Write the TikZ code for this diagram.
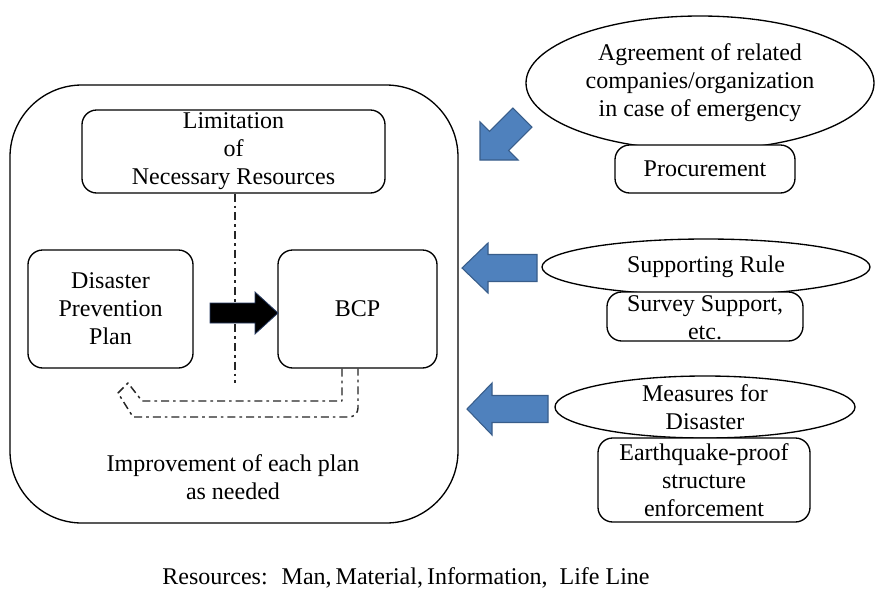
\documentclass[tikz,border=0pt]{standalone}
\usepackage{fontspec}
\setmainfont{Liberation Serif}
\begin{document}
\begin{tikzpicture}[x=0.75pt,y=-0.75pt,
  lw/.style={line width=1pt},
  box/.style={draw, lw, fill=white, rounded corners=11pt, align=center, inner sep=0pt},
  txt/.style={align=center, inner sep=0pt, font=\fontsize{18}{21}\selectfont},
  oval/.style={draw, lw, fill=white},
  ddot/.style={line width=1.1pt, black!85, dash pattern=on 6pt off 3pt on 2pt off 3pt},
  barrow/.style={fill={rgb,255:red,79;green,129;blue,189}, draw={rgb,255:red,56;green,93;blue,138}, line width=0.8pt, line join=miter}
]
\useasboundingbox (0,0) rectangle (875,590);
\fill[white] (0,0) rectangle (875,590);
\tikzset{every node/.append style={font=\fontsize{18}{21}\selectfont}}

% big container
\node[box, rounded corners=54pt, minimum width=336pt, minimum height=328.5pt] (big) at (234,304) {};

\node[box, minimum width=227.25pt, minimum height=62.25pt] (lim) at (233.5,151.5) {Limitation\\of\\Necessary Resources};
\node[box, minimum width=123.75pt, minimum height=88.5pt] (dpp) at (110.5,309) {Disaster\\Prevention\\Plan};
\node[box, minimum width=119.25pt, minimum height=88.5pt] (bcp) at (357.5,309) {BCP};

% vertical dash-dot line
\coordinate (vbot) at (235,383);
\draw[ddot] (lim.south -| vbot) -- (vbot);

% hollow U-turn arrow
\draw[ddot, line join=round] (bcp.south -| 342,0) -- (342,401) -- (142,401) -- (128,383) -- (118,393) -- (133,417)
  -- (349,417) to[out=0,in=-90] (358,408) -- (bcp.south -| 358,0);

% black arrow
\filldraw[fill=black, draw={rgb,255:red,40;green,60;blue,100}, line width=0.6pt]
  (210,303) -- (255,303) -- (255,292) -- (278,313) -- (255,334) -- (255,323) -- (210,323) -- cycle;

\node[txt] (impr) at (233,477) {Improvement of each plan\\as needed};

% right side
\draw[oval] (700,83) ellipse [x radius=174, y radius=67];
\node[txt] (agr) at (700,83) {Agreement of related\\companies/organization\\in case of emergency};
\node[box, minimum width=135pt, minimum height=36pt] (proc) at (705,169) {Procurement};

\draw[oval] (706,267) ellipse [x radius=164, y radius=28];
\node[txt] (sup) at (706,267) {Supporting Rule};
\node[box, minimum width=147pt, minimum height=36.75pt] (surv) at (705,316.5) {};
\node[txt] (survt) at (705,318) {Survey Support,\\etc.};

\draw[oval] (705,407) ellipse [x radius=150, y radius=31];
\node[txt] (meas) at (705,407) {Measures for\\Disaster};
\node[box, minimum width=159pt, minimum height=63pt] (earth) at (704,480) {Earthquake-proof\\structure\\enforcement};

% blue arrows
\filldraw[barrow, shift={(480,160)}, rotate=45]
  (0,0) -- (27,-27) -- (27,-13.5) -- (60,-13.5) -- (60,13.5) -- (27,13.5) -- (27,27) -- cycle;
\filldraw[barrow, shift={(462,268)}]
  (0,0) -- (26,-25) -- (26,-13.5) -- (75,-13.5) -- (75,13.5) -- (26,13.5) -- (26,25) -- cycle;
\filldraw[barrow, shift={(467,409)}]
  (0,0) -- (25,-26) -- (25,-13.5) -- (81,-13.5) -- (81,13.5) -- (25,13.5) -- (25,26) -- cycle;

\node[txt] (res) at (406,578) {Resources:~ Man,\,Material,\,Information,~ Life Line};
\end{tikzpicture}
\end{document}
